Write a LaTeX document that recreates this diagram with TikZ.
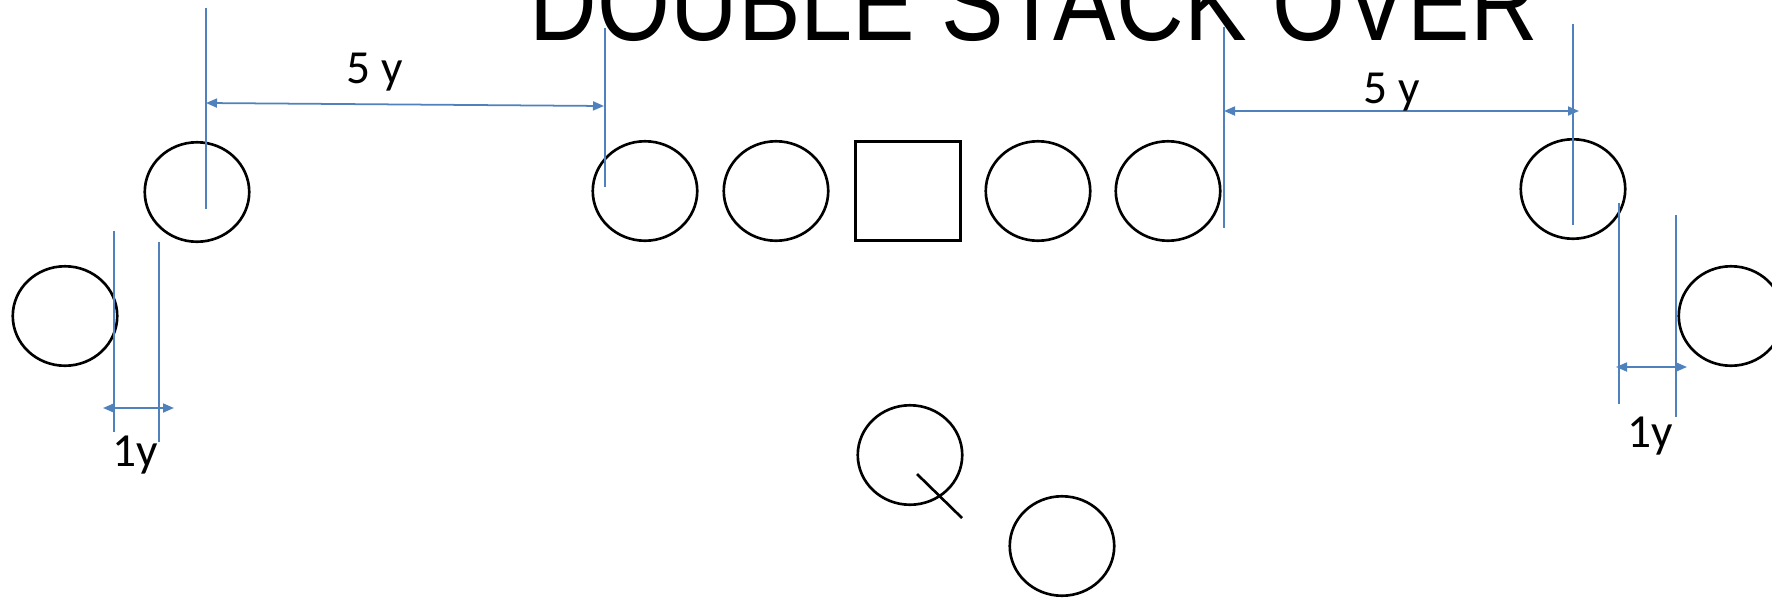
\documentclass[tikz,border=0pt]{standalone}
\usepackage{fontspec}
\usepackage{tikz}
\usetikzlibrary{shapes.geometric, arrows.meta, positioning}
\newfontfamily\titlefont{Liberation Sans}
\newfontfamily\labelfont{Carlito}
\definecolor{dimblue}{RGB}{79,129,189}

\begin{document}
\begin{tikzpicture}[
  x=0.02cm, y=-0.02cm,
  player/.style={ellipse, draw=black, line width=1.5pt, minimum width=2.09cm, minimum height=1.99cm, inner sep=0pt},
  snapbox/.style={rectangle, draw=black, line width=1.5pt, minimum width=2.11cm, minimum height=1.99cm, inner sep=0pt},
  dimline/.style={dimblue, line width=1pt},
  dimarr/.style={{Triangle[length=2.2mm, width=1.8mm]}-{Triangle[length=2.2mm, width=1.8mm]}, dimblue, line width=1pt},
  lbl/.style={font=\labelfont\fontsize{27}{30}\selectfont, inner sep=0pt, anchor=base}
]
\useasboundingbox (0,0) rectangle (1772,599);

% Title
\node[anchor=base, inner sep=0pt, font=\titlefont\fontsize{62}{70}\selectfont] (title) at (1034,40) {\scalebox{0.86}[1]{DOUBLE STACK OVER}};

% Line
\node[player] (olA) at (645,191) {};
\node[player] (olB) at (776,191) {};
\node[snapbox] (cen) at (908,191) {};
\node[player] (olC) at (1038,191) {};
\node[player] (olD) at (1168,191) {};

% Receivers
\node[player] (wideL) at (197,192) {};
\node[player] (slotL) at (65,316) {};
\node[player] (wideR) at (1573,189) {};
\node[player] (slotR) at (1731,316) {};

% Backfield
\node[player] (qb) at (910,455) {};
\node[player] (rb) at (1062,546) {};
\coordinate (qbA) at (917,474);
\coordinate (qbB) at (962,518);
\draw[line width=1.5pt] (qbA) -- (qbB);

% Extension lines
\coordinate (e1t) at (206,8);    \coordinate (e1b) at (206,209);
\coordinate (e2t) at (605,28);   \coordinate (e2b) at (605,187);
\coordinate (e3t) at (1224,27);  \coordinate (e3b) at (1224,228);
\coordinate (e4t) at (1573,24);  \coordinate (e4b) at (1573,225);
\coordinate (e5t) at (114,231);  \coordinate (e5b) at (114,432);
\coordinate (e6t) at (159,242);  \coordinate (e6b) at (159,442);
\coordinate (e7t) at (1619,203); \coordinate (e7b) at (1619,404);
\coordinate (e8t) at (1676,215); \coordinate (e8b) at (1676,417);
\draw[dimline] (e1t) -- (e1b);
\draw[dimline] (e2t) -- (e2b);
\draw[dimline] (e3t) -- (e3b);
\draw[dimline] (e4t) -- (e4b);
\draw[dimline] (e5t) -- (e5b);
\draw[dimline] (e6t) -- (e6b);
\draw[dimline] (e7t) -- (e7b);
\draw[dimline] (e8t) -- (e8b);

% Dimension arrows
\coordinate (a1l) at (206,103);  \coordinate (a1r) at (604,106);
\coordinate (a2l) at (1224,111); \coordinate (a2r) at (1579,111);
\coordinate (a3l) at (103,408);  \coordinate (a3r) at (174,408);
\coordinate (a4l) at (1616,367); \coordinate (a4r) at (1687,367);
\draw[dimarr] (a1l) -- (a1r);
\draw[dimarr] (a2l) -- (a2r);
\draw[dimarr] (a3l) -- (a3r);
\draw[dimarr] (a4l) -- (a4r);

% Labels
\node[lbl] (gapL) at (375,83) {5 y};
\node[lbl] (gapR) at (1392,103) {5 y};
\node[lbl] (splitLbl) at (135,466) {1y};
\node[lbl] (splitRbl) at (1650,447) {1y};
\end{tikzpicture}
\end{document}
